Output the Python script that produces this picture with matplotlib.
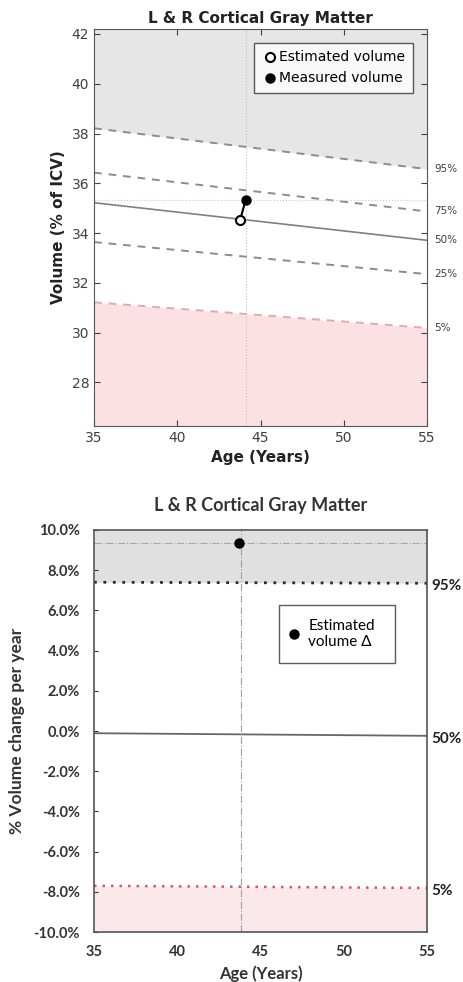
import numpy as np
import matplotlib
matplotlib.use("Agg")
import matplotlib.pyplot as plt

# --- top panel data: normative volume percentiles (% of ICV) ---
AGES = [35, 55]
PCT_LABELS = ["95%", "75%", "50%", "25%", "5%"]
VOL_P95 = [38.21, 36.57]
VOL_P75 = [36.43, 34.87]
VOL_P50 = [35.22, 33.71]
VOL_P25 = [33.64, 32.35]
VOL_P05 = [31.22, 30.19]
EST_AGE, EST_VOL = 43.77, 34.51
MEAS_AGE, MEAS_VOL = 44.11, 35.34

# --- bottom panel data: % volume change per year ---
CHG_P95 = [7.40, 7.35]
CHG_P50 = [-0.11, -0.24]
CHG_P05 = [-7.70, -7.81]
CHG_LABELS = ["95%", "50%", "5%"]
EST_CHG_AGE, EST_CHG = 43.73, 9.34
CHG_TICKS = [-10, -8, -6, -4, -2, 0, 2, 4, 6, 8, 10]

fig = plt.figure(figsize=(4.64, 9.82), dpi=100)

# ---------------- top panel ----------------
ax = fig.add_axes([0.2026, 0.5662, 0.7177, 0.4043])
ylo, yhi = 26.25, 42.2
ax.fill_between(AGES, VOL_P95, yhi, color="#e6e6e6", lw=0)
ax.fill_between(AGES, ylo, VOL_P05, color="#fbe1e3", lw=0)
for vals in [VOL_P95, VOL_P75, VOL_P25]:
    ax.plot(AGES, vals, ls=(0, (4, 3.5)), color="#8c8c8c", lw=1.4)
ax.plot(AGES, VOL_P05, ls=(0, (4, 3.5)), color="#e4a9ae", lw=1.4)
ax.plot(AGES, VOL_P50, color="#808080", lw=1.2)
ax.axvline(MEAS_AGE, color="#c0c0c0", ls=":", lw=0.8)
ax.axhline(MEAS_VOL, color="#c8c8c8", ls=":", lw=0.8)
ax.plot([EST_AGE, MEAS_AGE], [EST_VOL, MEAS_VOL], color="black", lw=1.5)
ax.plot(EST_AGE, EST_VOL, "o", mfc="white", mec="black", mew=1.5, ms=6.5,
        label="Estimated volume", zorder=5)
ax.plot(MEAS_AGE, MEAS_VOL, "o", color="black", ms=6.5,
        label="Measured volume", zorder=5)
ends = [VOL_P95[1], VOL_P75[1], VOL_P50[1], VOL_P25[1], VOL_P05[1]]
for v, lab in zip(ends, PCT_LABELS):
    ax.text(55.45, v, lab, fontsize=7.5, color="#404040", va="center",
            ha="left")
ax.set_xlim(35, 55)
ax.set_ylim(ylo, yhi)
ax.set_yticks([28, 30, 32, 34, 36, 38, 40, 42])
ax.set_xticks([35, 40, 45, 50, 55])
ax.tick_params(direction="in", right=True, top=True, labelsize=10,
               colors="#404040", length=4)
for s in ax.spines.values():
    s.set_color("#555555")
ax.set_title("L & R Cortical Gray Matter", fontsize=11, fontweight="bold",
             color="#222222", pad=4)
ax.set_xlabel("Age (Years)", fontsize=11, fontweight="bold", color="#222222",
              labelpad=4)
ax.set_ylabel("Volume (% of ICV)", fontsize=11, fontweight="bold",
              color="#222222", labelpad=4)
leg = ax.legend(loc="upper right", fontsize=10, frameon=True, fancybox=False,
                handletextpad=0.1, borderpad=0.55, labelspacing=0.5,
                handlelength=1.2, borderaxespad=1.0)
leg.get_frame().set_edgecolor("#333333")
leg.get_frame().set_linewidth(1.0)

# ---------------- bottom panel ----------------
fam = ["Lato", "DejaVu Sans"]
bx = fig.add_axes([0.2026, 0.0509, 0.7177, 0.4094])
bx.fill_between(AGES, CHG_P95, 10, color="#e0e0e0", lw=0)
bx.fill_between(AGES, -10, CHG_P05, color="#fbe8ea", lw=0)
bx.plot(AGES, CHG_P95, ls=(0, (1, 2.4)), color="#2b2b2b", lw=2.0)
bx.plot(AGES, CHG_P05, ls=(0, (1, 2.4)), color="#e2545e", lw=1.8)
bx.plot(AGES, CHG_P50, color="#666666", lw=1.3)
bx.axvline(EST_CHG_AGE + 0.07, color="#a0a0a0", ls="-.", lw=0.8)
bx.axhline(EST_CHG, color="#a8a8a8", ls="-.", lw=0.8)
bx.plot(EST_CHG_AGE, EST_CHG, "o", color="black", ms=6.5, zorder=5,
        label="Estimated\nvolume \u0394")
chg_ends = [CHG_P95[1], CHG_P50[1], CHG_P05[1]]
for v, lab in zip(chg_ends, CHG_LABELS):
    bx.text(55.25, v - 0.15, lab, fontsize=11, fontweight="bold",
            color="#222222", va="center", ha="left", family=fam)
bx.set_xlim(35, 55)
bx.set_ylim(-10, 10)
bx.set_yticks(CHG_TICKS)
bx.set_yticklabels([f"{t:.1f}%" for t in CHG_TICKS])
bx.set_xticks([35, 40, 45, 50, 55])
bx.tick_params(direction="in", length=3, labelsize=10.5, colors="#333333",
               left=True, right=False, top=False, pad=10)
bx.tick_params(axis="x", length=0, pad=9)
for lab in bx.get_xticklabels() + bx.get_yticklabels():
    lab.set_fontweight("bold")
    lab.set_family(fam)
for s in bx.spines.values():
    s.set_color("#555555")
    s.set_linewidth(1.2)
bx.set_title("L & R Cortical Gray Matter", fontsize=13, fontweight="bold",
             color="#333333", pad=14, family=fam)
bx.set_xlabel("Age (Years)", fontsize=12, fontweight="bold", color="#333333",
              labelpad=5, family=fam)
bx.set_ylabel("% Volume change per year", fontsize=12.5, fontweight="bold",
              color="#333333", labelpad=6, family=fam)
leg2 = bx.legend(loc="upper left", bbox_to_anchor=(0.556, 0.813, 0.348, 0),
                 mode="expand", borderaxespad=0,
                 frameon=True, fancybox=False, handletextpad=0.8,
                 borderpad=0.9, handlelength=0.2,
                 prop={"family": fam, "size": 11})
leg2.get_frame().set_edgecolor("#333333")
leg2.get_frame().set_linewidth(1.0)

fig.savefig("out.png", dpi=100)
